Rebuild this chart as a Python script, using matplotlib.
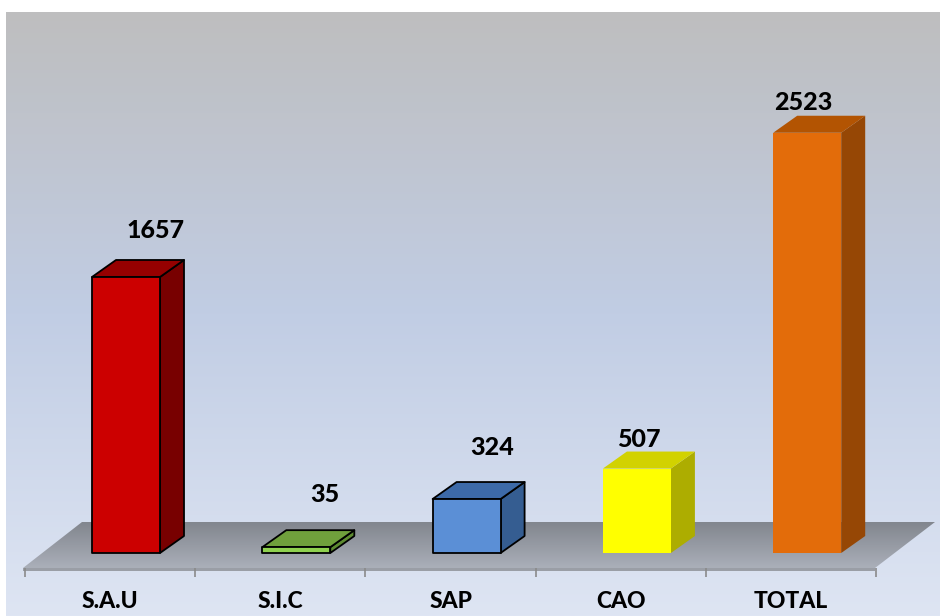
import numpy as np
import matplotlib
matplotlib.use("Agg")
import matplotlib.pyplot as plt
from matplotlib.patches import Polygon
from matplotlib.colors import LinearSegmentedColormap

plt.rcParams['font.family'] = ['Lato', 'DejaVu Sans']

# ---- data ----
categories = ["S.A.U", "S.I.C", "SAP", "CAO", "TOTAL"]
values = [1657, 35, 324, 507, 2523]

# ---- styles ----
front_colors = ["#cc0000", "#8fd14f", "#5b8fd6", "#ffff00", "#e36c0a"]
top_colors = ["#960000", "#70a03c", "#3d6aa8", "#d2d200", "#b35402"]
side_colors = ["#780000", "#5d8a30", "#355d91", "#adad00", "#964705"]
edge_on = [True, True, True, False, False]
label_offsets_px = [(46, -46), (45, -53), (42, -52), (18, -29), (12, -30)]

W, H = 940, 616
fig = plt.figure(figsize=(W / 100, H / 100), dpi=100)
fig.patch.set_facecolor("white")

# background gradient
bg = fig.add_axes([6 / W, 0, (W - 6) / W, (H - 12) / H])
bg.axis("off")
bg_cmap = LinearSegmentedColormap.from_list(
    "bg", [(0.0, (190/255, 190/255, 191/255)),
           (0.5, (193/255, 205/255, 228/255)),
           (1.0, (222/255, 229/255, 243/255))])
grad = np.linspace(0, 1, 256).reshape(-1, 1)
bg.imshow(grad, aspect="auto", cmap=bg_cmap, extent=[0, 1, 1, 0])
bg.set_xlim(0, 1); bg.set_ylim(1, 0)

# main axes: x = category index, y = value
ax = fig.add_axes([0, 0, 1, 1])
ax.axis("off")
ax.patch.set_alpha(0)
PX_PER_CAT = 170.3
PX_PER_VAL = 0.16657
X0_PX = 110.0
Y0_PX = 553.0
ax.set_xlim(-X0_PX / PX_PER_CAT, (W - X0_PX) / PX_PER_CAT)
ax.set_ylim((Y0_PX - H) / PX_PER_VAL, Y0_PX / PX_PER_VAL)

def cx(px):
    return (px - X0_PX) / PX_PER_CAT

def vy(py):
    return (Y0_PX - py) / PX_PER_VAL

# floor
floor_pts = [(cx(23), vy(568)), (cx(875), vy(568)), (cx(935), vy(522)), (cx(82), vy(522))]
floor_cmap = LinearSegmentedColormap.from_list(
    "floor", [(0.0, (130/255, 134/255, 142/255)), (1.0, (170/255, 175/255, 185/255))])
fimg = ax.imshow(np.linspace(0, 1, 64).reshape(-1, 1), cmap=floor_cmap, aspect="auto",
                 extent=[cx(23), cx(935), vy(568), vy(522)], origin="upper", zorder=1)
fpoly = Polygon(floor_pts, closed=True, facecolor="none", edgecolor="none", zorder=1)
ax.add_patch(fpoly)
fimg.set_clip_path(fpoly)
# floor front thickness
strip = Polygon([(cx(23), vy(568)), (cx(875), vy(568)), (cx(875), vy(571)), (cx(23), vy(571))],
                closed=True, facecolor="#9a9ea6", edgecolor="none", zorder=1)
ax.add_patch(strip)

# ticks at category boundaries
for k in range(len(categories) + 1):
    b = k - 0.5
    ax.plot([b, b], [vy(568), vy(577)], color="#8a8a8a", lw=1.2, zorder=1,
            solid_capstyle="butt")

# bars
left_off = -18 / PX_PER_CAT
bw = 68 / PX_PER_CAT
ddx = 24 / PX_PER_CAT
ddy = 17 / PX_PER_VAL
for i, (v, fc, tc, sc, e) in enumerate(zip(values, front_colors, top_colors, side_colors, edge_on)):
    x0 = i + left_off
    x1 = x0 + bw
    if e:
        ec, lw = "black", 1.3
    else:
        ec, lw = "none", 0
    front = Polygon([(x0, 0), (x1, 0), (x1, v), (x0, v)], closed=True,
                    facecolor=fc, edgecolor=ec, lw=lw, zorder=3, joinstyle="round")
    top = Polygon([(x0, v), (x1, v), (x1 + ddx, v + ddy), (x0 + ddx, v + ddy)], closed=True,
                  facecolor=tc, edgecolor=ec, lw=lw, zorder=3, joinstyle="round")
    side = Polygon([(x1, 0), (x1 + ddx, ddy), (x1 + ddx, v + ddy), (x1, v)], closed=True,
                   facecolor=sc, edgecolor=ec, lw=lw, zorder=3, joinstyle="round")
    for p in (side, top, front):
        ax.add_patch(p)
    dxp, dyp = label_offsets_px[i]
    ax.annotate(f"{v}", xy=(i, v), xytext=(dxp * 0.72, -dyp * 0.72),
                textcoords="offset points", ha="center", va="center",
                fontsize=18, fontweight="black", color="black", zorder=5)

# category labels
for i, c in enumerate(categories):
    ax.text(i, vy(602), c, ha="center", va="center", fontsize=16.5,
            fontweight="black", color="black", zorder=5)

fig.savefig("out.png", dpi=100)
